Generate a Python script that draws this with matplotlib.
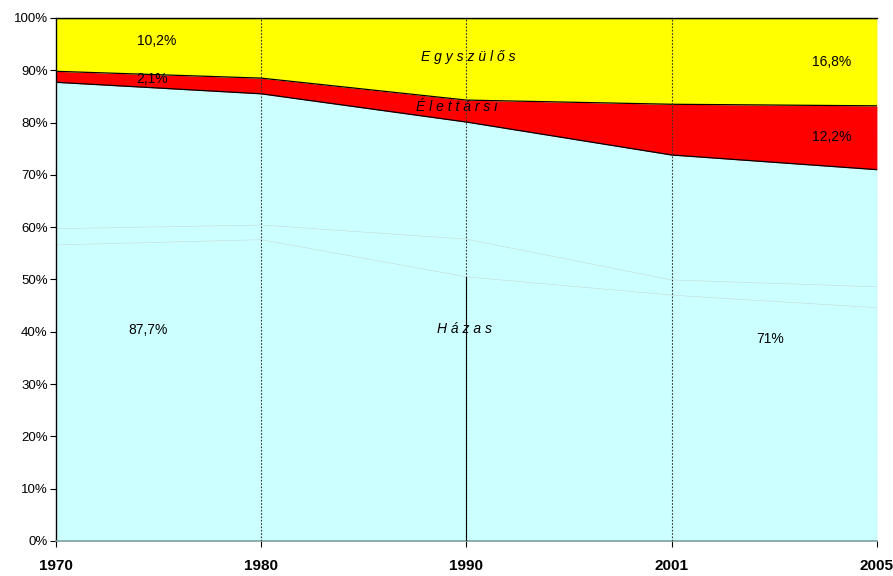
import matplotlib
matplotlib.use("Agg")
import matplotlib.pyplot as plt
import numpy as np

plt.rcParams['font.family'] = ['Liberation Sans', 'DejaVu Sans']

### data (percent of families)
years = ['1970', '1980', '1990', '2001', '2005']
# Házas is drawn in three same-coloured parts (faint dividing lines)
hazas_a = [56.6, 57.6, 50.5, 47.0, 44.6]
hazas_b = [3.1, 2.8, 7.2, 2.9, 4.0]
hazas_c = [28.0, 25.1, 22.4, 23.9, 22.4]
elettarsi = [2.1, 3.0, 4.2, 9.7, 12.2]
egyszulos = [10.2, 11.5, 15.7, 16.5, 16.8]

x = np.arange(len(years))
layers = [hazas_a, hazas_b, hazas_c, elettarsi, egyszulos]
colors = ['#ccffff', '#ccffff', '#ccffff', '#ff0000', '#ffff00']

fig = plt.figure(figsize=(8.93, 5.76), dpi=100)
ax = fig.add_axes([0.0627, 0.0608, 0.9193, 0.908])

bottom = np.zeros(len(x))
for i, (vals, col) in enumerate(zip(layers, colors)):
    top = bottom + np.array(vals)
    ax.fill_between(x, bottom, top, color=col, linewidth=0, zorder=1)
    if i < 2:
        # faint line inside the Házas area
        ax.plot(x, top, color='#c4dede', linewidth=0.5, zorder=2)
    else:
        ax.plot(x, top, color='black', linewidth=0.9, zorder=3)
    bottom = top

# vertical category lines
for xi in x[1:]:
    ax.axvline(xi, color='#333333', linewidth=0.8, linestyle=(0, (1.5, 1.5)), zorder=4)
hazas_low = np.array(hazas_a)
ax.plot([2, 2], [0, hazas_low[2]], color='black', linewidth=0.8, zorder=4)

ax.set_xlim(0, len(x) - 1)
ax.set_ylim(0, 100)
ax.set_yticks(np.arange(0, 101, 10))
ax.set_yticklabels([f'{v}%' for v in range(0, 101, 10)], fontsize=9.5)
ax.set_xticks(x)
ax.set_xticklabels(years, fontsize=11, fontweight='bold',
                   family=['Liberation Sans Narrow', 'Liberation Sans'])
ax.tick_params(axis='y', length=4, width=0.8, pad=2)
ax.tick_params(axis='x', length=4, width=0.8, pad=9)

for side in ['left', 'top']:
    ax.spines[side].set_color('black')
    ax.spines[side].set_linewidth(1.0)
ax.spines['right'].set_visible(False)
ax.spines['bottom'].set_color('#7fa0a0')
ax.spines['bottom'].set_linewidth(1.2)

### labels
lab = dict(ha='center', va='center', fontsize=10)
ax.text(0.49, 95.6, '10,2%', **lab)
ax.text(0.47, 88.3, '2,1%', **lab)
ax.text(0.45, 40.4, '87,7%', **lab)
ax.text(3.78, 91.5, '16,8%', **lab)
ax.text(3.78, 77.2, '12,2%', **lab)
ax.text(3.48, 38.6, '71%', **lab)
ax.text(2.01, 92.6, 'E g y s z ü l ő s', style='italic', **lab)
ax.text(1.95, 83.0, 'É l e t t á r s i', style='italic', **lab)
ax.text(1.99, 40.6, 'H á z a s', style='italic', **lab)

fig.savefig('out.png', dpi=100)
